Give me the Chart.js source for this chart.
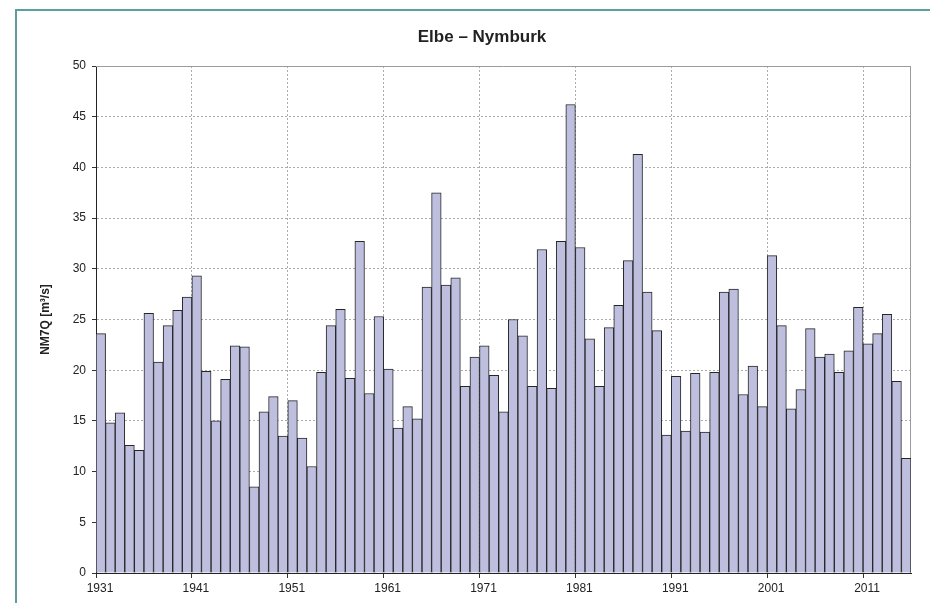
<!DOCTYPE html>
<html>
<head>
<meta charset="utf-8">
<title>Elbe – Nymburk</title>
<script src="https://cdn.jsdelivr.net/npm/chart.js@4.4.1/dist/chart.umd.min.js"></script>
<style>
    html, body { margin: 0; padding: 0; background: #fff; }
    #wrap { position: relative; width: 930px; height: 603px; overflow: hidden; }
    #frame {
        position: absolute; left: 15px; top: 9px; width: 1000px; height: 700px;
        border-left: 2px solid #5c9f9f; border-top: 2px solid #5c9f9f;
    }
    #chart-box { position: absolute; left: 0; top: 0; width: 930px; height: 603px; }
</style>
</head>
<body>
<div id="wrap">
    <div id="frame"></div>
    <div id="chart-box"><canvas id="flowChart"></canvas></div>
</div>
<script>
// ── Data ────────────────────────────────────────────────

const chartTitle = 'Elbe – Nymburk';
const yAxisTitle = 'NM7Q [m³/s]';

const years = [
    1931, 1932, 1933, 1934, 1935, 1936, 1937, 1938, 1939, 1940,
    1941, 1942, 1943, 1944, 1945, 1946, 1947, 1948, 1949, 1950,
    1951, 1952, 1953, 1954, 1955, 1956, 1957, 1958, 1959, 1960,
    1961, 1962, 1963, 1964, 1965, 1966, 1967, 1968, 1969, 1970,
    1971, 1972, 1973, 1974, 1975, 1976, 1977, 1978, 1979, 1980,
    1981, 1982, 1983, 1984, 1985, 1986, 1987, 1988, 1989, 1990,
    1991, 1992, 1993, 1994, 1995, 1996, 1997, 1998, 1999, 2000,
    2001, 2002, 2003, 2004, 2005, 2006, 2007, 2008, 2009, 2010,
    2011, 2012, 2013, 2014, 2015
];

const nm7q = [
    23.6, 14.8, 15.8, 12.6, 12.1, 25.6, 20.8, 24.4, 25.9, 27.2,
    29.3, 19.9, 15.0, 19.1, 22.4, 22.3, 8.5, 15.9, 17.4, 13.5,
    17.0, 13.3, 10.5, 19.8, 24.4, 26.0, 19.2, 32.7, 17.7, 25.3,
    20.1, 14.3, 16.4, 15.2, 28.2, 37.5, 28.4, 29.1, 18.4, 21.3,
    22.4, 19.5, 15.9, 25.0, 23.4, 18.4, 31.9, 18.2, 32.7, 46.2,
    32.1, 23.1, 18.4, 24.2, 26.4, 30.8, 41.3, 27.7, 23.9, 13.6,
    19.4, 14.0, 19.7, 13.9, 19.8, 27.7, 28.0, 17.6, 20.4, 16.4,
    31.3, 24.4, 16.2, 18.1, 24.1, 21.3, 21.6, 19.8, 21.9, 26.2,
    22.6, 23.6, 25.5, 18.9, 11.3
];

const xTickYears = [1931, 1941, 1951, 1961, 1971, 1981, 1991, 2001, 2011];
const yMin = 0, yMax = 50, yStep = 5;

// ── Plugins ─────────────────────────────────────────────

const FONT = '"Liberation Sans", Arial, sans-serif';

// solid grey edge on top and right of the plot area
const plotFrame = {
    id: 'plotFrame',
    beforeDatasetsDraw(chart) {
        const { ctx, chartArea: a } = chart;
        ctx.save();
        ctx.strokeStyle = '#9c9c9c';
        ctx.lineWidth = 1;
        ctx.beginPath();
        ctx.moveTo(a.left, a.top + 0.5);
        ctx.lineTo(a.right - 0.5, a.top + 0.5);
        ctx.lineTo(a.right - 0.5, a.bottom);
        ctx.stroke();
        ctx.restore();
    }
};

const plotTitle = {
    id: 'plotTitle',
    afterDraw(chart) {
        const ctx = chart.ctx;
        ctx.save();
        ctx.font = 'bold 17px ' + FONT;
        ctx.fillStyle = '#222';
        ctx.textAlign = 'center';
        ctx.textBaseline = 'alphabetic';
        ctx.fillText(chartTitle, 482, 42);
        ctx.restore();
    }
};

// ── Chart ───────────────────────────────────────────────

Chart.defaults.font.family = FONT;
Chart.defaults.color = '#222';

const ctx = document.getElementById('flowChart').getContext('2d');

new Chart(ctx, {
    type: 'bar',
    data: {
        datasets: [{
            label: yAxisTitle,
            // each bar covers its year, from the year tick to the next one
            data: years.map((yr, i) => ({ x: yr + 0.5, y: nm7q[i] })),
            backgroundColor: '#bebedf',
            borderColor: '#262626',
            borderWidth: 1,
            barPercentage: 1,
            categoryPercentage: 1
        }]
    },
    options: {
        responsive: true,
        maintainAspectRatio: false,
        animation: false,
        layout: { padding: { top: 66, right: 19, bottom: 0, left: 0 } },
        plugins: {
            legend: { display: false },
            tooltip: { enabled: false }
        },
        scales: {
            x: {
                type: 'linear',
                min: years[0],
                max: years[years.length - 1] + 1,
                offset: false,
                afterBuildTicks: (scale) => {
                    scale.ticks = xTickYears.map(v => ({ value: v }));
                },
                afterFit: (scale) => { scale.height = 30; },
                grid: {
                    offset: false,
                    color: '#ababab',
                    tickLength: 5,
                    tickColor: '#333'
                },
                border: { color: '#222', width: 1, dash: [2, 2] },
                ticks: {
                    autoSkip: false,
                    maxRotation: 0,
                    padding: 3,
                    labelOffset: 4,
                    font: { size: 12 },
                    callback: (v) => String(v)
                }
            },
            y: {
                min: yMin,
                max: yMax,
                afterFit: (scale) => { scale.width = 96; },
                grid: {
                    color: '#ababab',
                    tickLength: 4,
                    tickColor: '#333'
                },
                border: { color: '#222', width: 1, dash: [2, 2] },
                ticks: {
                    stepSize: yStep,
                    padding: 6,
                    font: { size: 12 }
                },
                title: {
                    display: true,
                    text: yAxisTitle,
                    font: { size: 12, weight: 'bold' },
                    padding: { top: 38, bottom: 0 }
                }
            }
        }
    },
    plugins: [plotFrame, plotTitle]
});
</script>
</body>
</html>
